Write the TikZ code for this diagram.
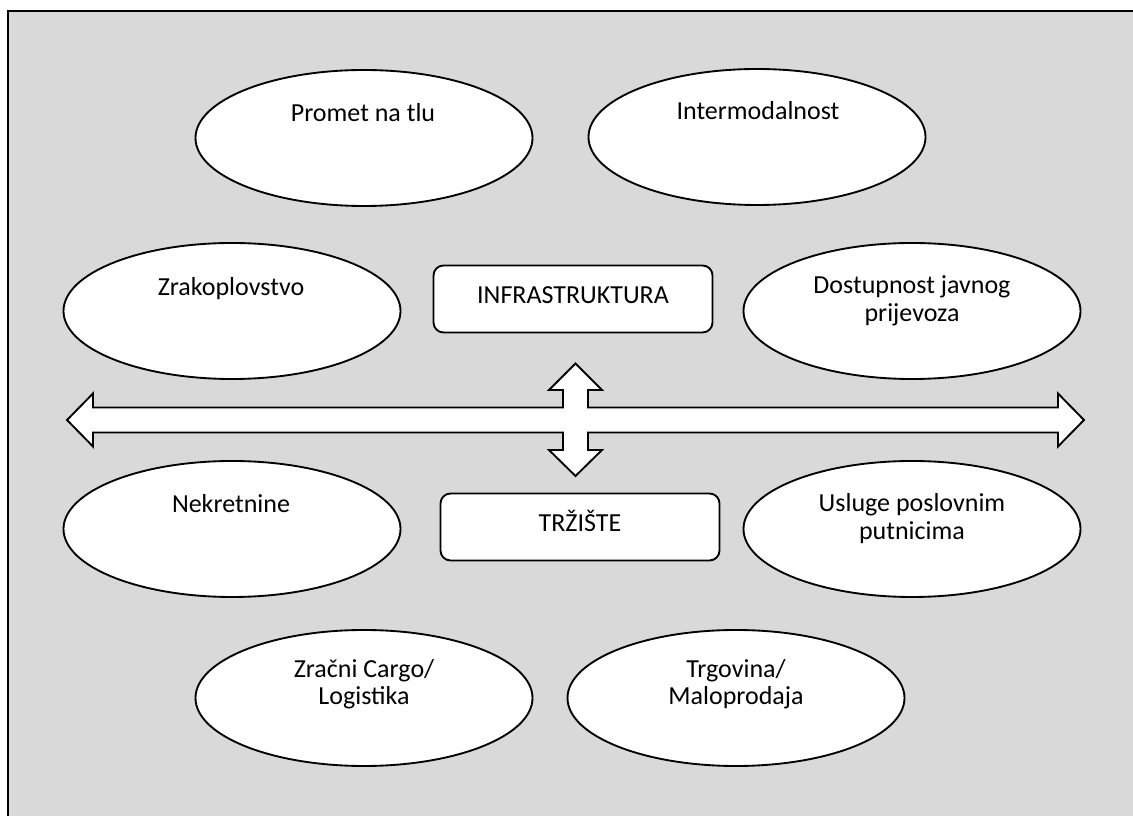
\documentclass[tikz,border=0pt]{standalone}
\usepackage{fontspec}
\setmainfont{Carlito}
\usetikzlibrary{shapes.geometric}
\newdimen\pxu \pxu=0.75pt
\definecolor{bggray}{HTML}{D9D9D9}
\begin{document}
\begin{tikzpicture}[x=0.75pt,y=-0.75pt,
  oval/.style={ellipse, draw=black, fill=white, line width=1.4pt, inner sep=0pt,
    minimum width=337\pxu, minimum height=136\pxu},
  lbl/.style={font=\fontsize{19.5}{21}\selectfont, inner sep=0pt, anchor=base},
  capbox/.style={rectangle, rounded corners=7.5pt, draw=black, fill=white, line width=1.4pt,
    minimum width=279\pxu, minimum height=67\pxu, inner sep=0pt,
    font=\fontsize{19.5}{21}\selectfont, text height=12pt, text depth=4.5pt},
  bigarrow/.style={draw=black, fill=white, line width=1.4pt, line join=miter}]
\clip (0,0) rectangle (1133,816);
\fill[bggray] (8,11) rectangle (1140,830);
\draw[line width=1.9pt] (8,830) -- (8,11) -- (1140,11);

% ellipses
\node[oval] (e1) at (364,138) {};
\node[oval] (e2) at (757,137) {};
\node[oval] (e3) at (232,311) {};
\node[oval] (e4) at (912,311) {};
\node[oval] (e5) at (232,529) {};
\node[oval] (e6) at (912,529) {};
\node[oval] (e7) at (364,698) {};
\node[oval] (e8) at (736,698) {};

% ellipse texts
\node[lbl] (t1) at (363,122) {Promet na tlu};
\node[lbl] (t2) at (758,120) {Intermodalnost};
\node[lbl] (t3) at (231,296) {Zrakoplovstvo};
\node[lbl] (t4a) at (912,294) {Dostupnost javnog};
\node[lbl] (t4b) at (912,322) {prijevoza};
\node[lbl] (t5) at (231,513) {Nekretnine};
\node[lbl] (t6a) at (912,512) {Usluge poslovnim};
\node[lbl] (t6b) at (912,540) {putnicima};
\node[lbl] (t7a) at (364,677) {Zračni Cargo/};
\node[lbl] (t7b) at (364,705) {Logistika};
\node[lbl] (t8a) at (736,677) {Trgovina/};
\node[lbl] (t8b) at (736,705) {Maloprodaja};

% boxes
\node[capbox] (infra) at (573,299) {INFRASTRUKTURA};
\node[capbox] (market) at (580,527) {TRŽIŠTE};

% cross arrow
\draw[bigarrow] (67,420) -- (93,393.5) -- (93,407.5) -- (563,407.5) -- (563,390)
  -- (549,390) -- (575.5,363.5) -- (602,390) -- (588,390) -- (588,407.5)
  -- (1058,407.5) -- (1058,393.5) -- (1084,420) -- (1058,446.5) -- (1058,432.5)
  -- (588,432.5) -- (588,450) -- (602,450) -- (575.5,476) -- (549,450)
  -- (563,450) -- (563,432.5) -- (93,432.5) -- (93,446.5) -- cycle;
\end{tikzpicture}
\end{document}
